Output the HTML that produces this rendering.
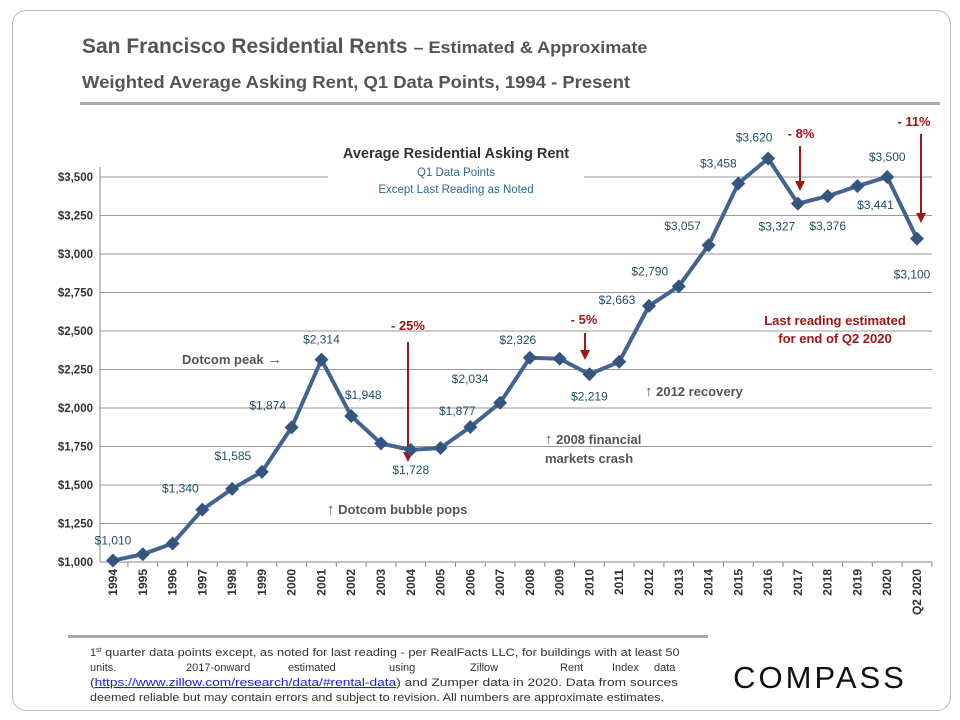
<!DOCTYPE html>
<html><head><meta charset="utf-8">
<style>
body{margin:0;background:#fff;}
svg text{font-family:"Liberation Sans",Arial,sans-serif;}
.frame{position:absolute;left:12px;top:10px;width:937px;height:699px;border:1px solid #bbb;border-radius:14px;}
</style></head>
<body>
<div style="position:relative;width:960px;height:720px;overflow:hidden">
<div class="frame"></div>
<svg id="chart" width="960" height="720" style="position:absolute;left:0;top:0">
<text x="82" y="53" font-size="21" font-weight="bold" fill="#555">San Francisco Residential Rents <tspan font-size="16.5" textLength="234" lengthAdjust="spacingAndGlyphs">– Estimated &amp; Approximate</tspan></text>
<text x="82" y="88" font-size="17.5" font-weight="bold" fill="#555" textLength="548" lengthAdjust="spacingAndGlyphs">Weighted Average Asking Rent, Q1 Data Points,  1994 - Present</text>
<rect x="80" y="102" width="860" height="3" fill="#aaa"/>
<g id="grid"></g>
<g id="axes"></g>
<g id="annot">
<rect x="328" y="140" width="256" height="58" fill="#fff"/>
<text x="456" y="158" font-size="14.5" font-weight="bold" fill="#333" text-anchor="middle">Average Residential Asking Rent</text>
<text x="456" y="176" font-size="11.5" fill="#2e6a8e" text-anchor="middle">Q1 Data Points</text>
<text x="456" y="193" font-size="11.5" fill="#2e6a8e" text-anchor="middle">Except Last Reading as Noted</text>
<text x="408" y="330" font-size="13" font-weight="bold" fill="#a01515" text-anchor="middle">- 25%</text>
<line x1="408" y1="342" x2="408" y2="454" stroke="#a01515" stroke-width="2"/><path d="M403,452 L408,462 L413,452Z" fill="#a01515"/>
<text x="584" y="324" font-size="13" font-weight="bold" fill="#a01515" text-anchor="middle">- 5%</text>
<line x1="585" y1="333" x2="585" y2="352" stroke="#a01515" stroke-width="2"/><path d="M580,350 L585,360 L590,350Z" fill="#a01515"/>
<text x="801" y="138" font-size="13" font-weight="bold" fill="#a01515" text-anchor="middle">- 8%</text>
<line x1="800" y1="146" x2="800" y2="183" stroke="#a01515" stroke-width="2"/><path d="M795,181 L800,191 L805,181Z" fill="#a01515"/>
<text x="914" y="126" font-size="13" font-weight="bold" fill="#a01515" text-anchor="middle">- 11%</text>
<line x1="921" y1="134" x2="921" y2="215" stroke="#a01515" stroke-width="2"/><path d="M916,213 L921,223 L926,213Z" fill="#a01515"/>
<text x="835" y="325" font-size="13" font-weight="bold" fill="#a01515" text-anchor="middle">Last reading estimated</text>
<text x="835" y="343" font-size="13" font-weight="bold" fill="#a01515" text-anchor="middle">for end of Q2 2020</text>
<text x="182" y="364" font-size="13" font-weight="bold" fill="#555">Dotcom peak <tspan font-size="15">→</tspan></text>
<text x="645" y="396" font-size="13" font-weight="bold" fill="#555"><tspan font-size="15">↑</tspan> 2012 recovery</text>
<text x="545" y="444" font-size="13" font-weight="bold" fill="#555"><tspan font-size="15">↑</tspan> 2008 financial</text>
<text x="545" y="463" font-size="13" font-weight="bold" fill="#555">markets crash</text>
<text x="327" y="514" font-size="13" font-weight="bold" fill="#555"><tspan font-size="15">↑</tspan> Dotcom bubble pops</text>
</g>
<g id="series"></g>
<rect x="68" y="635" width="640" height="3" fill="#aaa"/>
<g font-size="11" fill="#333">
<text x="90" y="656">1<tspan font-size="7" dy="-4">st</tspan><tspan dy="4" textLength="578" lengthAdjust="spacingAndGlyphs"> quarter data points except, as noted for last reading - per RealFacts LLC, for buildings with at least 50</tspan></text>
<text x="90" y="671">units.</text><text x="186" y="671">2017-onward</text><text x="288" y="671">estimated</text><text x="389" y="671">using</text><text x="470" y="671">Zillow</text><text x="560" y="671">Rent</text><text x="612" y="671">Index</text><text x="654" y="671">data</text>
<text x="90" y="686" textLength="588" lengthAdjust="spacingAndGlyphs">(<tspan fill="#1a1aee" text-decoration="underline">https://www.zillow.com/research/data/#rental-data</tspan>) and Zumper data in 2020. Data from sources</text>
<text x="90" y="701" textLength="574" lengthAdjust="spacingAndGlyphs">deemed reliable but may contain errors and subject to revision. All numbers are approximate estimates.</text>
</g>
<text x="820" y="688" font-size="31" fill="#111" text-anchor="middle" letter-spacing="3">COMPASS</text>
</svg>
</div>
<script>
const categories=["1994","1995","1996","1997","1998","1999","2000","2001","2002","2003","2004","2005","2006","2007","2008","2009","2010","2011","2012","2013","2014","2015","2016","2017","2018","2019","2020","Q2 2020"];
const rents=[1010,1050,1120,1340,1475,1585,1874,2314,1948,1770,1728,1740,1877,2034,2326,2320,2219,2300,2663,2790,3057,3458,3620,3327,3376,3441,3500,3100];
const labelText=["$1,010","","","$1,340","","$1,585","$1,874","$2,314","$1,948","","$1,728","","$1,877","$2,034","$2,326","","$2,219","","$2,663","$2,790","$3,057","$3,458","$3,620","$3,327","$3,376","$3,441","$3,500","$3,100"];
const yTicks=[1000,1250,1500,1750,2000,2250,2500,2750,3000,3250,3500];
const labelOffsets=[[0,-20],[0,0],[0,0],[-22,-21],[0,0],[-29,-16],[-24,-22],[0,-20],[12,-21],[0,0],[0,20],[0,0],[-13,-16],[-30,-24],[-12,-18],[0,0],[0,22],[0,0],[-32,-6],[-29,-15],[-26,-19],[-20,-20],[-14,-21],[-21,23],[0,30],[18,19],[0,-20],[-5,36]];
const NS="http://www.w3.org/2000/svg";
const X0=113,X1=917,Y0=562,Y1=177,VMIN=1000,VMAX=3500;
const xs=i=>X0+(X1-X0)*i/(categories.length-1);
const ys=v=>Y0-(v-VMIN)*(Y0-Y1)/(VMAX-VMIN);
function mk(tag,attrs,parent){const e=document.createElementNS(NS,tag);for(const k in attrs)e.setAttribute(k,attrs[k]);parent.appendChild(e);return e;}
const grid=document.getElementById('grid'),axes=document.getElementById('axes'),series=document.getElementById('series');
yTicks.forEach(t=>{
  if(t>VMIN){const g=mk('line',{x1:100,x2:932,y1:ys(t),y2:ys(t),stroke:'#999','stroke-width':1},grid);
  
  }
  const tx=mk('text',{x:93,y:ys(t)+4,'font-size':11.5,'font-weight':'bold','fill':'#333','text-anchor':'end'},axes);
  tx.textContent='$'+t.toLocaleString('en-US');
  
  
});
const ax=mk('line',{x1:100,x2:932,y1:Y0,y2:Y0,stroke:'#888','stroke-width':1},axes);


const ay=mk('line',{x1:100,x2:100,y1:Y1-10,y2:Y0,stroke:'#888','stroke-width':1},axes);


const step=(X1-X0)/(categories.length-1);
categories.forEach((c,i)=>{
  const x=xs(i);
  mk('line',{x1:x+step/2,x2:x+step/2,y1:Y0,y2:Y0+5,stroke:'#888'},axes);
  const t=mk('text',{x:0,y:0,'font-size':12,'font-weight':'bold','fill':'#333','text-anchor':'end',transform:`translate(${x+4},${Y0+7}) rotate(-90)`},axes);
  t.textContent=c;
  
  
});
const pl=mk('polyline',{points:rents.map((v,i)=>xs(i)+','+ys(v)).join(' '),fill:'none',stroke:'#44648f','stroke-width':4,'stroke-linejoin':'round'},series);


rents.forEach((v,i)=>{
  const x=xs(i),y=ys(v);
  const m=mk('path',{d:`M${x},${y-7}L${x+7},${y}L${x},${y+7}L${x-7},${y}Z`,fill:'#35547f'},series);
  
  
  if(labelText[i]){
    const o=labelOffsets[i];
    const t=mk('text',{x:x+o[0],y:y+o[1]+4,'font-size':12,'fill':'#1f5060','text-anchor':'middle'},series);
    t.textContent=labelText[i];
    
    
  }
});
</script>
</body></html>
